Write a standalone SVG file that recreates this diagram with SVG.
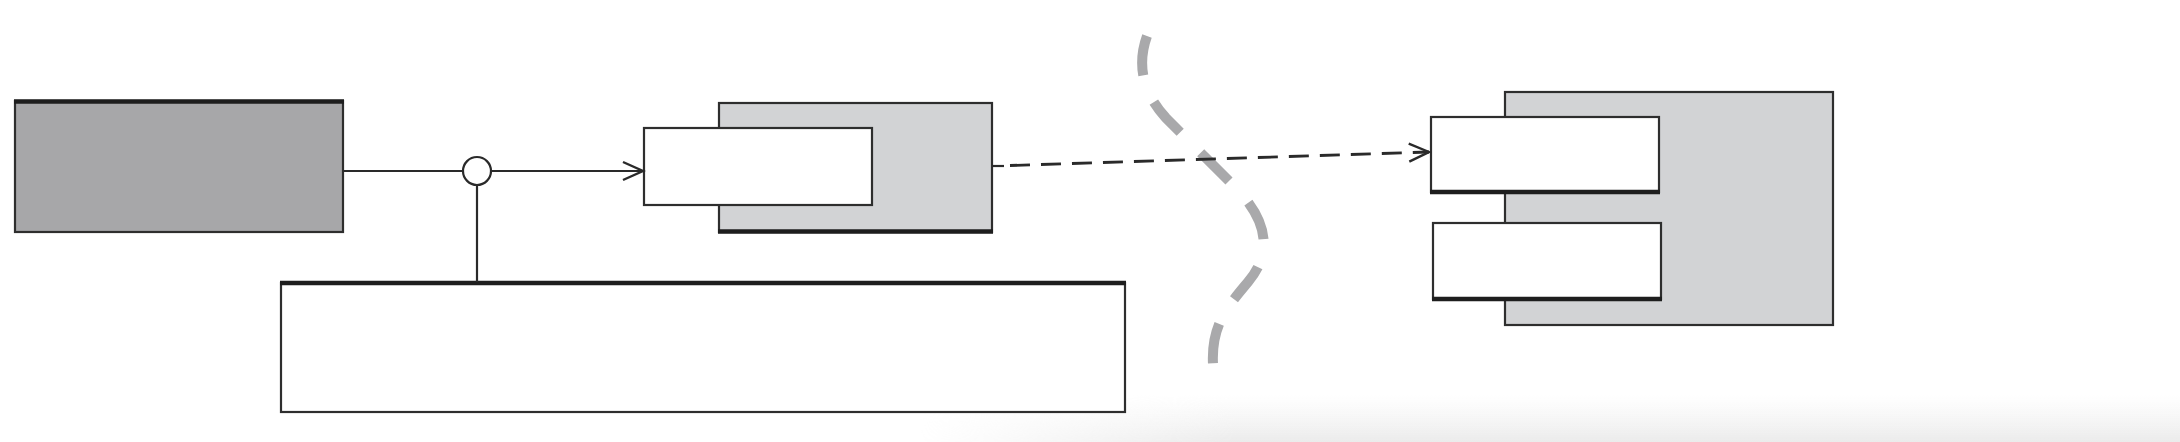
<svg xmlns="http://www.w3.org/2000/svg" width="2180" height="442" viewBox="0 0 2180 442">
  <defs>
    <style>
      .box { stroke: #2e2e2e; stroke-width: 2.2; }
      .edge { stroke: #1e1e1e; stroke-width: 4.5; stroke-linecap: butt; }
      .dark { fill: #a7a7a9; }
      .gray { fill: #d2d3d5; }
      .white { fill: #ffffff; }
      .conn { fill: none; stroke: #2a2a2a; stroke-width: 2.2; }
      .dash { stroke-dasharray: 20 11; stroke-width: 2.8; }
      .boundary { fill: none; stroke: #a9a9ab; stroke-width: 10; stroke-dasharray: 40 29; stroke-linecap: butt; }
    </style>
    <marker id="open" markerUnits="userSpaceOnUse" markerWidth="26" markerHeight="24" refX="22" refY="12" orient="auto">
      <path d="M2,3 L22,12 L2,21" fill="none" stroke="#2a2a2a" stroke-width="2.4"/>
    </marker>
    <linearGradient id="shadeV" x1="0" y1="0" x2="0" y2="1">
      <stop offset="0" stop-color="#f0f0f0" stop-opacity="0"/>
      <stop offset="1" stop-color="#ebebeb" stop-opacity="1"/>
    </linearGradient>
    <linearGradient id="fadeH" x1="0" y1="0" x2="1" y2="0">
      <stop offset="0" stop-color="#000"/>
      <stop offset="0.25" stop-color="#fff"/>
      <stop offset="1" stop-color="#fff"/>
    </linearGradient>
    <mask id="shadeMask">
      <rect x="920" y="395" width="1260" height="47" fill="url(#fadeH)"/>
    </mask>
  </defs>

  <rect x="0" y="0" width="2180" height="442" fill="#ffffff"/>
  <rect x="920" y="395" width="1260" height="47" fill="url(#shadeV)" mask="url(#shadeMask)"/>

  <g id="client">
    <rect class="box dark" x="15" y="101" width="328" height="131"/>
    <line class="edge" x1="14" y1="101.5" x2="344" y2="101.5"/>
  </g>

  <g id="component-a">
    <rect class="box gray" x="719" y="103" width="273" height="129"/>
    <line class="edge" x1="718" y1="231.5" x2="993" y2="231.5"/>
    <rect class="box white" x="644" y="128" width="228" height="77"/>
  </g>

  <g id="component-b">
    <rect class="box gray" x="1505" y="92" width="328" height="233"/>
    <rect class="box white" x="1431" y="117" width="228" height="75"/>
    <line class="edge" x1="1430" y1="192" x2="1660" y2="192"/>
    <rect class="box white" x="1433" y="223" width="228" height="76"/>
    <line class="edge" x1="1432" y1="299" x2="1662" y2="299"/>
  </g>

  <g id="store">
    <rect class="box white" x="281" y="283" width="844" height="129"/>
    <line class="edge" x1="280" y1="283" x2="1126" y2="283"/>
  </g>

  <g id="boundary">
    <path class="boundary" d="M1147,36 C1137,64 1142,92 1166,118 L1234,186 C1272,224 1270,256 1248,282 C1228,306 1211,325 1213,364"/>
  </g>

  <g id="connectors">
    <line class="conn" x1="343" y1="171" x2="463" y2="171"/>
    <line class="conn" x1="491" y1="171" x2="643" y2="171" marker-end="url(#open)"/>
    <line class="conn" x1="477" y1="185" x2="477" y2="282"/>
    <circle cx="477" cy="171" r="14" fill="#ffffff" stroke="#2a2a2a" stroke-width="2.2"/>
    <line class="conn" x1="992" y1="166" x2="1004" y2="166"/>
    <line class="conn dash" x1="1010" y1="165.5" x2="1429" y2="152" marker-end="url(#open)"/>
  </g>
</svg>
